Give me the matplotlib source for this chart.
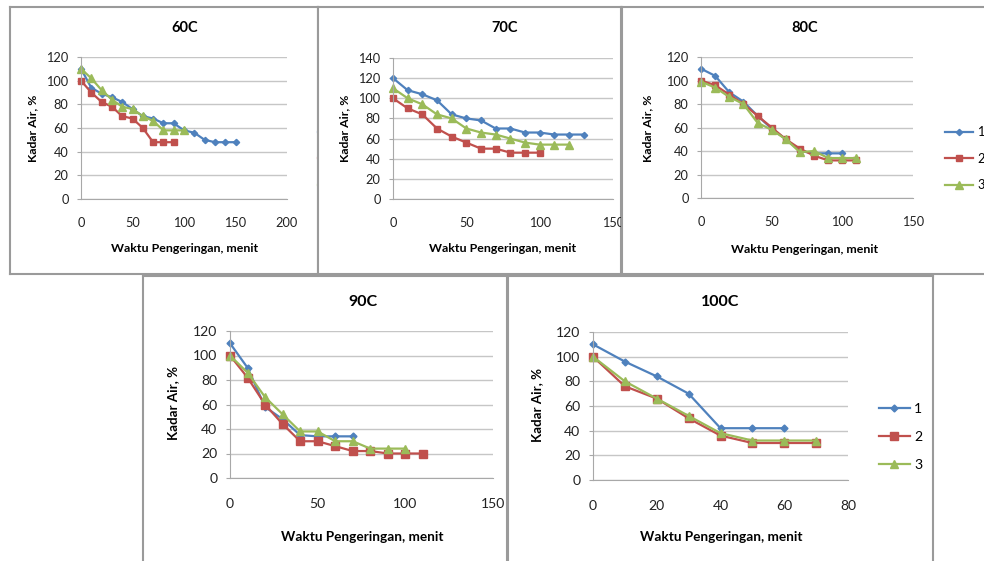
import matplotlib
matplotlib.use('Agg')
import matplotlib.pyplot as plt

plt.rcParams['font.family'] = ['Lato', 'DejaVu Sans']

# ---- data (Kadar Air %, per drying time in minutes) ----
t60 = [0, 10, 20, 30, 40, 50, 60, 70, 80, 90, 100, 110, 120, 130, 140, 150]
k60_1 = [110, 94, 89, 86, 82, 76, 70, 68, 64, 64, 58, 56, 50, 48, 48, 48]
k60_2 = [100, 90, 82, 78, 70, 68, 60, 48, 48, 48]
k60_3 = [110, 102, 92, 84, 78, 76, 70, 66, 58, 58, 58]

t70 = [0, 10, 20, 30, 40, 50, 60, 70, 80, 90, 100, 110, 120, 130]
k70_1 = [120, 108, 104, 98, 84, 80, 78, 70, 70, 66, 66, 64, 64, 64]
k70_2 = [100, 90, 84, 70, 62, 56, 50, 50, 46, 46, 46]
k70_3 = [110, 100, 94, 84, 80, 70, 66, 64, 60, 56, 54, 54, 54]

t80 = [0, 10, 20, 30, 40, 50, 60, 70, 80, 90, 100, 110]
k80_1 = [110, 104, 90, 82, 70, 59, 50, 40, 38, 38, 38]
k80_2 = [100, 96, 88, 80, 70, 60, 50, 42, 36, 32, 32, 32]
k80_3 = [99, 94, 86, 80, 64, 58, 50, 39, 40, 34, 34, 34]

t90 = [0, 10, 20, 30, 40, 50, 60, 70, 80, 90, 100, 110]
k90_1 = [110, 90, 58, 48, 35, 34, 34, 34]
k90_2 = [100, 82, 60, 44, 30, 30, 26, 22, 22, 20, 20, 20]
k90_3 = [100, 86, 66, 52, 38, 38, 30, 30, 24, 24, 24]

t100 = [0, 10, 20, 30, 40, 50, 60, 70]
k100_1 = [110, 96, 84, 70, 42, 42, 42]
k100_2 = [100, 76, 66, 50, 36, 30, 30, 30]
k100_3 = [100, 80, 66, 52, 38, 32, 32, 32]

series_names = ['1', '2', '3']
colors = ['#4F81BD', '#C0504D', '#9BBB59']
markers = ['D', 's', '^']
msizes = [3.2, 4.6, 5.2]

W, H = 984, 561
fig = plt.figure(figsize=(W / 100, H / 100), dpi=100)


def rect(x0, y0, x1, y1):
    return [x0 / W, 1 - y1 / H, (x1 - x0) / W, (y1 - y0) / H]


def panel(z, box, plot, title, t, ks, xmax, xstep, ymax, tpos, ylpos, xlpos,
          leg=None, s=1.0):
    bg = fig.add_axes(rect(*box))
    bg.set_zorder(z)
    bg.set_xticks([])
    bg.set_yticks([])
    for sp in bg.spines.values():
        sp.set_color('#9a9a9a')
        sp.set_linewidth(1.5)

    ax = fig.add_axes(rect(*plot))
    ax.set_zorder(z + 1)
    for k, c, m, ms, name in zip(ks, colors, markers, msizes, series_names):
        ax.plot(t[:len(k)], k, color=c, marker=m, markersize=ms * s, lw=1.6,
                label=name, clip_on=False)
    ax.set_xlim(0, xmax)
    ax.set_ylim(0, ymax)
    ax.set_xticks(range(0, xmax + 1, xstep))
    ax.set_yticks(range(0, ymax + 1, 20))
    ax.yaxis.grid(True, color='#c6c6c6', lw=1)
    ax.set_axisbelow(True)
    for sp in ['top', 'right']:
        ax.spines[sp].set_visible(False)
    for sp in ['left', 'bottom']:
        ax.spines[sp].set_color('#a8a8a8')
    ax.tick_params(axis='y', length=3, color='#a8a8a8', pad=6,
                   labelsize=9.2 * s, labelcolor='#222222')
    ax.tick_params(axis='x', length=0, pad=13 * s,
                   labelsize=9.2 * s, labelcolor='#222222')

    tr = fig.transFigure
    ax.text(tpos[0] / W, 1 - tpos[1] / H, title, transform=tr, ha='center',
            va='center', fontsize=10.5 * s, fontweight='bold')
    ax.text(ylpos[0] / W, 1 - ylpos[1] / H, 'Kadar Air, %', transform=tr,
            ha='center', va='center', rotation=90, fontsize=8.8 * s,
            fontweight='bold')
    ax.text(xlpos[0] / W, 1 - xlpos[1] / H, 'Waktu Pengeringan, menit',
            transform=tr, ha='center', va='center', fontsize=8.9 * s,
            fontweight='bold')
    if leg is not None:
        ax.legend(loc='upper left', bbox_to_anchor=(leg[0] / W, 1 - leg[1] / H),
                  bbox_transform=tr, frameon=False, fontsize=9.2 * s,
                  handlelength=2.2, handletextpad=0.3, labelspacing=1.15,
                  borderpad=0, borderaxespad=0)
    return ax


panel(0, (10, 7, 318, 274), (81, 57, 287, 199), '60C', t60,
      [k60_1, k60_2, k60_3], 200, 50, 120, (185, 28), (33, 128), (185, 249),
      leg=(318, 126))
panel(2, (318, 7, 621, 274), (393, 58, 613, 199), '70C', t70,
      [k70_1, k70_2, k70_3], 150, 50, 140, (505, 28), (345, 128), (503, 249))
panel(4, (622, 7, 1000, 274), (701, 57, 913, 198), '80C', t80,
      [k80_1, k80_2, k80_3], 150, 50, 120, (805, 28), (648, 128), (805, 250),
      leg=(945, 126))
panel(6, (143, 276, 507, 590), (230, 331, 493, 478), '90C', t90,
      [k90_1, k90_2, k90_3], 150, 50, 120, (363, 302), (173, 403), (362, 537),
      s=1.1)
panel(8, (508, 276, 933, 590), (593, 332, 848, 480), '100C', t100,
      [k100_1, k100_2, k100_3], 80, 20, 120, (720, 302), (537, 405), (721, 537),
      leg=(879, 403), s=1.1)

fig.savefig('out.png', dpi=100)
